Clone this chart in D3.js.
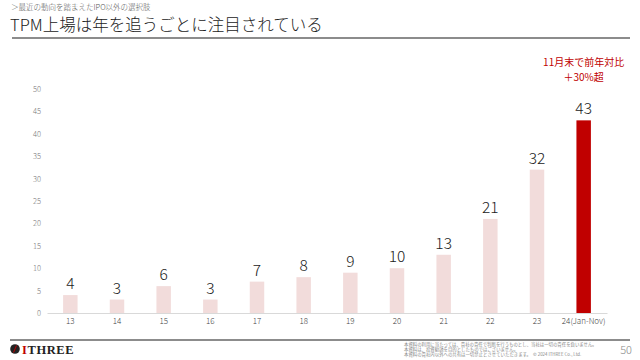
<!DOCTYPE html>
<html><head><meta charset="utf-8">
<script src="https://cdn.jsdelivr.net/npm/d3@7"></script>
<style>body{margin:0;background:#fff}svg{display:block}</style>
</head><body>
<svg id="c" width="640" height="360"></svg>
<script>
const categories = ["13","14","15","16","17","18","19","20","21","22","23","24(Jan-Nov)"];
const values = [4,3,6,3,7,8,9,10,13,21,32,43];
const yTicks = [0,5,10,15,20,25,30,35,40,45,50];
const highlight = "24(Jan-Nov)";
const title = "TPM上場は年を追うごとに注目されている";
const subtitle = "＞最近の動向を踏まえたIPO以外の選択肢";
const note = ["11月末で前年対比", "＋30%超"];
const footer = [
  "本資料の利用に当たっては、貴社の責任で判断を行うものとし、当社は一切の責任を負いません。",
  "本資料は、投資勧誘を目的としたものではございません。",
  "本資料の貴社内以外への共有は一切禁止とさせていただきます。　©  2024  ITHREE Co., Ltd."
];
const pageNo = "50";

const font = "'Noto Sans CJK JP','Noto Sans',sans-serif";
const svg = d3.select("#c").style("font-family", font);

// header
svg.append("text").attr("x",11).attr("y",9.6).attr("font-size",7.5).attr("font-weight",300).attr("fill","#555").text(subtitle);
svg.append("text").attr("x",10).attr("y",31).attr("font-size",16.5).attr("font-weight",300).attr("fill","#222").text(title);
svg.append("line").attr("x1",12).attr("x2",630).attr("y1",38).attr("y2",38).attr("stroke","#8c8c8c").attr("stroke-width",2);

// scales
const x = d3.scaleBand().domain(categories).range([47,607]).paddingInner(0.69).paddingOuter(0.345);
const y = d3.scaleLinear().domain([0,50]).range([313,89]);

// y axis labels
const yAxis = d3.axisLeft(y).tickValues(yTicks).tickSize(0).tickPadding(0);
const gy = svg.append("g").attr("transform","translate(41,0)").call(yAxis);
gy.select(".domain").remove();
gy.selectAll("text").attr("font-size",7.5).attr("font-weight",300).attr("fill","#777").attr("font-family",font);

// x axis
const xAxis = d3.axisBottom(x).tickSize(0).tickPadding(5);
const gx = svg.append("g").attr("transform","translate(0,313)").call(xAxis);
gx.select(".domain").attr("stroke","#d9d9d9").attr("stroke-width",1);
gx.selectAll("text").attr("font-size",8).attr("font-weight",300).attr("fill","#444").attr("font-family",font);

// bars
svg.append("g").selectAll("rect").data(values).join("rect")
  .attr("x",(d,i)=>x(categories[i]))
  .attr("width",x.bandwidth())
  .attr("y",d=>y(d))
  .attr("height",d=>y(0)-y(d))
  .attr("fill",(d,i)=>categories[i]===highlight?"#c00000":"#f2dcdb");

// value labels
svg.append("g").selectAll("text").data(values).join("text")
  .attr("x",(d,i)=>x(categories[i])+x.bandwidth()/2)
  .attr("y",d=>y(d)-6)
  .attr("text-anchor","middle")
  .attr("font-size",15.5)
  .attr("font-weight",300)
  .attr("fill","#222")
  .text(d=>d);

// annotation
const hx = x(highlight)+x.bandwidth()/2;
svg.append("g").selectAll("text").data(note).join("text")
  .attr("x",hx).attr("y",(d,i)=>66+i*14.6)
  .attr("text-anchor","middle").attr("font-size",10).attr("fill","#c00000").text(d=>d);

// footer
svg.append("line").attr("x1",10).attr("x2",630).attr("y1",340).attr("y2",340).attr("stroke","#8c8c8c").attr("stroke-width",2);
const ft = svg.append("text").attr("x",404).attr("y",346).attr("font-size",4.4).attr("fill","#888");
ft.selectAll("tspan").data(footer).join("tspan")
  .attr("x",404).attr("dy",(d,i)=>i===0?0:5).text(d=>d);
svg.append("text").attr("x",632).attr("y",354).attr("text-anchor","end").attr("font-size",11).attr("font-weight",300).attr("fill","#888").text(pageNo);

// logo
svg.append("circle").attr("cx",15).attr("cy",349).attr("r",4.8).attr("fill","#222");
svg.append("line").attr("x1",13.5).attr("y1",352.5).attr("x2",16.5).attr("y2",345.5).attr("stroke","#c00000").attr("stroke-width",1);
const logo = svg.append("text").attr("x",22).attr("y",353.5).attr("font-family","'Liberation Serif','DejaVu Serif',serif").attr("font-weight","bold").attr("font-size",12.5).attr("letter-spacing",0.6).attr("fill","#222");
logo.append("tspan").attr("fill","#c00000").text("I");
logo.append("tspan").text("THREE");
</script>
</body></html>
